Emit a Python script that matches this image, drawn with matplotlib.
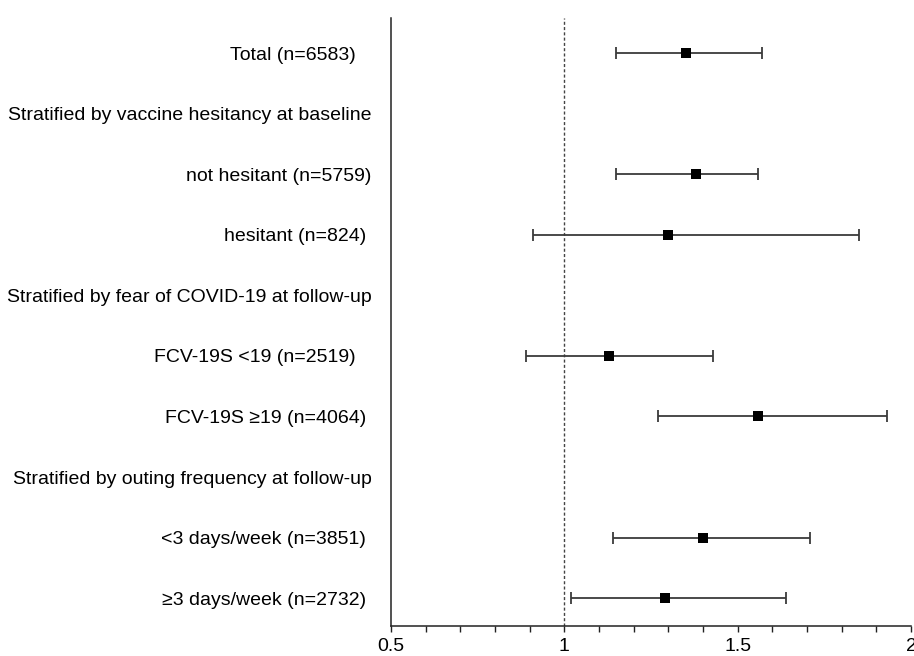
import matplotlib
matplotlib.use("Agg")
import matplotlib.pyplot as plt
from matplotlib.ticker import MultipleLocator, FixedLocator
import numpy as np

plt.rcParams['font.family'] = ['Liberation Sans', 'DejaVu Sans']

labels = [
    "Total (n=6583)   ",
    "Stratified by vaccine hesitancy at baseline",
    "not hesitant (n=5759)",
    "hesitant (n=824) ",
    "Stratified by fear of COVID-19 at follow-up",
    "FCV-19S <19 (n=2519)   ",
    "FCV-19S \u226519 (n=4064) ",
    "Stratified by outing frequency at follow-up",
    "<3 days/week (n=3851) ",
    "\u22653 days/week (n=2732) ",
]
# None for header rows
estimate = [1.35, None, 1.38, 1.30, None, 1.13, 1.56, None, 1.40, 1.29]
lower    = [1.15, None, 1.15, 0.91, None, 0.89, 1.27, None, 1.14, 1.02]
upper    = [1.57, None, 1.56, 1.85, None, 1.43, 1.93, None, 1.71, 1.64]
x_ticks = [0.5, 1, 1.5, 2]
x_tick_labels = ["0.5", "1", "1.5", "2"]

fig = plt.figure(figsize=(9.14, 6.56), dpi=100)
ax = fig.add_axes([391/914, 1 - 626/656, (911 - 391)/914, (626 - 18)/656])

rows = np.arange(len(labels))
for r, e, lo, hi in zip(rows, estimate, lower, upper):
    if e is None:
        continue
    ax.errorbar([e], [r], xerr=[[e - lo], [hi - e]], fmt='none',
                ecolor='#3a3a3a', elinewidth=1.3, capsize=4, capthick=1.3,
                zorder=2)
    ax.plot([e], [r], marker='s', color='black', markersize=7,
            markeredgewidth=0, linestyle='none', zorder=3)

ax.axvline(1, color='#444444', linestyle=(0, (2.2, 1.6)), linewidth=1.0, zorder=1)

ax.set_xlim(0.5, 2)
ax.set_ylim(len(labels) - 1 + 0.46, -0.58)
ax.xaxis.set_major_locator(FixedLocator(x_ticks))
ax.set_xticklabels(x_tick_labels)
ax.xaxis.set_minor_locator(MultipleLocator(0.1))
ax.tick_params(axis='x', which='both', direction='out', length=4.5, width=1,
               color='#222222', labelsize=14, pad=4)
ax.set_yticks(rows)
ax.set_yticklabels(labels)
ax.tick_params(axis='y', length=0, pad=14, labelsize=14)

for s in ['top', 'right']:
    ax.spines[s].set_visible(False)
for s in ['left', 'bottom']:
    ax.spines[s].set_linewidth(1.1)
    ax.spines[s].set_color('#222222')

fig.savefig("out.png", dpi=100)
